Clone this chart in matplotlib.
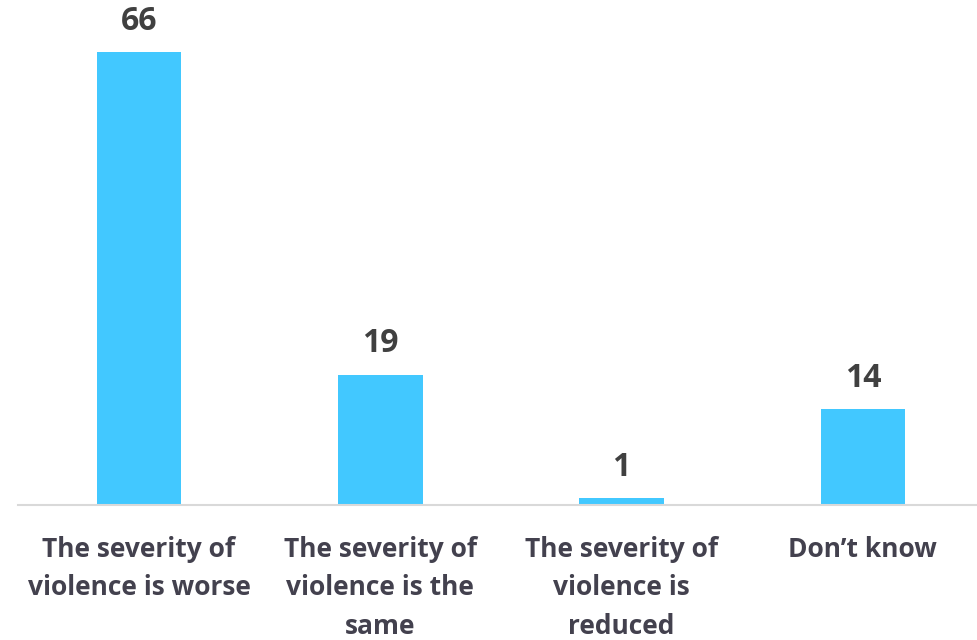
import matplotlib
matplotlib.use("Agg")
import matplotlib.pyplot as plt

categories = [
    "The severity of\nviolence is worse",
    "The severity of\nviolence is the\nsame",
    "The severity of\nviolence is\nreduced",
    "Don\u2019t know",
]
values = [66, 19, 1, 14]

bar_color = "#42C8FF"
plt.rcParams["font.family"] = ["Open Sans", "DejaVu Sans"]

fig = plt.figure(figsize=(9.78, 6.4), dpi=100)
ax = fig.add_axes([18.3 / 978, (640 - 505) / 640, 965.3 / 978, 480 / 640])

x = range(len(values))
bars = ax.bar(x, values, width=0.35, color=bar_color, zorder=2)
ax.set_xlim(-0.5, len(values) - 0.5)
ax.set_ylim(0, 70)

for b, v in zip(bars, values):
    ax.text(b.get_x() + b.get_width() / 2, v + 4.5, str(v), ha="center", va="center",
            fontsize=23, fontweight="bold", color="#404040", clip_on=False)

ax.set_xticks(list(x))
ax.set_xticklabels(categories, fontsize=19, fontweight="bold", color="#43414E",
                   linespacing=1.55, va="top")
ax.tick_params(axis="x", length=0, pad=22)
ax.set_yticks([])
for s in ["top", "right", "left"]:
    ax.spines[s].set_visible(False)
ax.spines["bottom"].set_color("#D9D9D9")
ax.spines["bottom"].set_linewidth(1.5)

fig.savefig("out.png", dpi=100)
